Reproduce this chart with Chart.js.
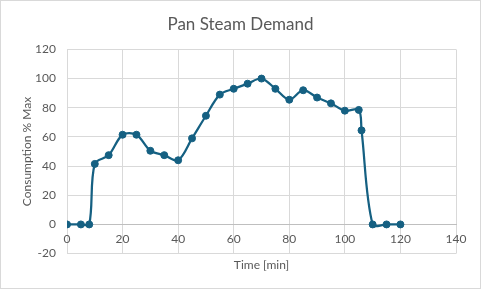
<!DOCTYPE html>
<html>
<head>
<meta charset="utf-8">
<title>Pan Steam Demand</title>
<script src="https://cdn.jsdelivr.net/npm/chart.js@4.4.1/dist/chart.umd.min.js"></script>
<style>
  body { margin: 0; background: #fff; }
  #wrap { width: 481px; height: 289px; box-sizing: border-box; border: 1px solid #d9d9d9; }
</style>
</head>
<body>
<div id="wrap"><canvas id="demand_chart" width="479" height="287"></canvas></div>

<script>
  // time [min] and consumption [% of max]
  var time_min = [0, 5, 8, 10, 15, 20, 25, 30, 35, 40, 45, 50, 55, 60, 65, 70,
                  75, 80, 85, 90, 95, 100, 105, 106, 110, 115, 120]
  var consumption = [0, 0, 0, 41.5, 47.5, 61.5, 61.5, 50.5, 47.5, 44, 59, 74.5, 89, 93, 96.5, 100,
                     93, 85.5, 92, 87, 83, 78, 78.5, 64.5, 0, 0, 0]

  var points = time_min.map((t, i) => ({x: t, y: consumption[i]}))

  var grey = '#595959'
  var font_family = 'Lato, "Open Sans", sans-serif'

  var ctx = document.getElementById("demand_chart").getContext("2d");
  let chart = new Chart(ctx, {
    type: 'scatter',
    data: {
      datasets: [{
        label: 'Consumption',
        data: points,
        showLine: true,
        tension: 0.33,
        borderColor: '#156082',
        backgroundColor: '#156082',
        borderWidth: 2.25,
        pointRadius: 3.5,
        pointBorderWidth: 1,
        pointHoverRadius: 3.5
      }]
    },
    options: {
      animation: false,
      responsive: false,
      layout: { padding: { left: 0, right: 0, top: 0, bottom: 12 } },
      plugins: {
        legend: { display: false },
        tooltip: { enabled: false },
        title: {
          display: true,
          text: 'Pan Steam Demand',
          color: grey,
          font: { family: font_family, size: 17, weight: 'normal' },
          padding: { top: 13, bottom: 15 }
        }
      },
      scales: {
        x: {
          type: 'linear',
          position: { y: 0 },
          min: 0, max: 140,
          ticks: { stepSize: 20, color: grey, padding: 7, font: { family: font_family, size: 12 } },
          grid: { color: '#d9d9d9', drawTicks: false },
          border: { color: '#bfbfbf' }
        },
        x2: {
          type: 'linear',
          position: 'bottom',
          axis: 'x',
          min: 0, max: 140,
          ticks: { display: false },
          grid: { display: false, drawTicks: false },
          border: { display: false },
          title: {
            display: true, text: 'Time [min]', color: grey,
            font: { family: font_family, size: 12 },
            padding: { top: 4, bottom: 4 }
          }
        },
        y: {
          min: -20, max: 120,
          ticks: { stepSize: 20, color: grey, padding: 11, font: { family: font_family, size: 12 } },
          grid: { color: '#d9d9d9', drawTicks: false },
          border: { display: false },
          title: {
            display: true, text: 'Consumption % Max', color: grey,
            font: { family: font_family, size: 12 },
            padding: { top: 19, bottom: 0 }
          },
          afterFit: (scale) => { scale.width = 66 }
        },
        // empty right-hand strip so the plot ends where the original does
        y_right: {
          type: 'linear',
          position: 'right',
          axis: 'y',
          min: -20, max: 120,
          ticks: { display: false },
          grid: { display: false, drawTicks: false },
          border: { display: false },
          afterFit: (scale) => { scale.width = 24 }
        }
      }
    }
  });
</script>
</body>
</html>
